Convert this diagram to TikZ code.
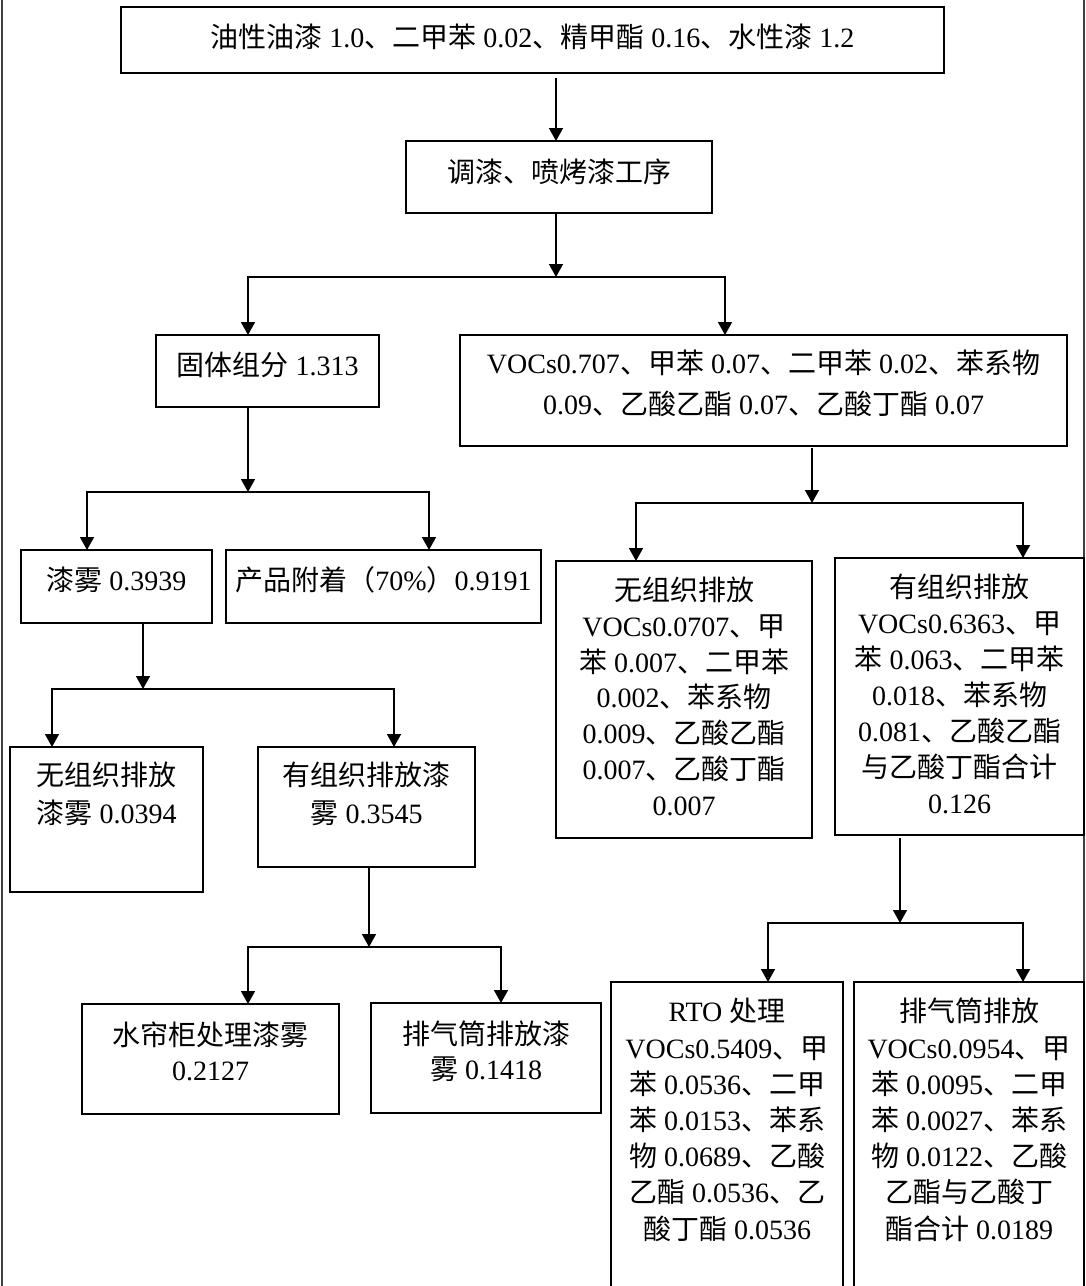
\documentclass[tikz,border=0pt]{standalone}
\usepackage{fontspec}
\setmainfont{Liberation Serif}
\newfontfamily\cjk{Noto Sans CJK SC}
\usetikzlibrary{arrows.meta}
\newcommand\zh[1]{{\cjk #1}}
% width, height, top pad, baselineskip, text
\newcommand\bt[5]{\begin{minipage}[t][#2pt][t]{#1pt}\centering\fontsize{28pt}{#4pt}\selectfont\vspace*{#3pt}\strut #5\end{minipage}}
\tikzset{
  bx/.style={draw, line width=1.8pt, inner sep=0pt, outer sep=0pt, anchor=north west},
  arr/.style={line width=1.6pt, -{Triangle[length=13pt,width=14pt]}},
  frameline/.style={line width=1.2pt, black!75}
}
\begin{document}
\begin{tikzpicture}[x=1pt,y=-1pt]
\clip (0,0) rectangle (1086,1286);
\fill[white] (0,0) rectangle (1086,1286);
\draw[frameline] (2,-10) -- (2,1300);
\draw[frameline] (1084,-10) -- (1084,1300);

\node[bx] (top) at (121,7) {\bt{823}{66}{15.4}{36}{\zh{油性油漆} 1.0\zh{、二甲苯} 0.02\zh{、精甲酯} 0.16\zh{、水性漆} 1.2}};
\node[bx] (proc) at (406,141) {\bt{306}{72}{16.4}{36}{\zh{调漆、喷烤漆工序}}};
\node[bx] (solid) at (156,335) {\bt{223}{72}{15.4}{36}{\zh{固体组分} 1.313}};
\node[bx] (voc) at (460,335) {\bt{607}{111}{9.9}{41}{VOCs0.707\zh{、甲苯} 0.07\zh{、二甲苯} 0.02\zh{、苯系物}\\0.09\zh{、乙酸乙酯} 0.07\zh{、乙酸丁酯} 0.07}};
\node[bx] (mist) at (21,550) {\bt{191}{73}{15.4}{36}{\zh{漆雾} 0.3939}};
\node[bx] (prod) at (226,550) {\bt{315}{73}{15.4}{36}{\zh{产品附着（}70\%\zh{）}0.9191}};
\node[bx] (vocU) at (556,561) {\bt{256}{277}{14.4}{35.8}{\zh{无组织排放}\\VOCs0.0707\zh{、甲}\\\zh{苯} 0.007\zh{、二甲苯}\\0.002\zh{、苯系物}\\0.009\zh{、乙酸乙酯}\\0.007\zh{、乙酸丁酯}\\0.007}};
\node[bx] (vocO) at (835,558) {\bt{249}{277}{14.4}{36}{\zh{有组织排放}\\VOCs0.6363\zh{、甲}\\\zh{苯} 0.063\zh{、二甲苯}\\0.018\zh{、苯系物}\\0.081\zh{、乙酸乙酯}\\\zh{与乙酸丁酯合计}\\0.126}};
\node[bx] (mistU) at (10,747) {\bt{193}{145}{12}{38}{\zh{无组织排放}\\\zh{漆雾} 0.0394}};
\node[bx] (mistO) at (258,747) {\bt{217}{120}{12}{38}{\zh{有组织排放漆}\\\zh{雾} 0.3545}};
\node[bx] (water) at (82,1004) {\bt{257}{110}{17}{35}{\zh{水帘柜处理漆雾}\\0.2127}};
\node[bx] (stackM) at (371,1003) {\bt{230}{110}{17}{35}{\zh{排气筒排放漆}\\\zh{雾} 0.1418}};
\node[bx] (rto) at (611,982) {\bt{232}{330}{14.5}{36.2}{RTO \zh{处理}\\VOCs0.5409\zh{、甲}\\\zh{苯} 0.0536\zh{、二甲}\\\zh{苯} 0.0153\zh{、苯系}\\\zh{物} 0.0689\zh{、乙酸}\\\zh{乙酯} 0.0536\zh{、乙}\\\zh{酸丁酯} 0.0536}};
\node[bx] (stackV) at (854,982) {\bt{230}{330}{14.5}{36.2}{\zh{排气筒排放}\\VOCs0.0954\zh{、甲}\\\zh{苯} 0.0095\zh{、二甲}\\\zh{苯} 0.0027\zh{、苯系}\\\zh{物} 0.0122\zh{、乙酸}\\\zh{乙酯与乙酸丁}\\\zh{酯合计} 0.0189}};

% junction points
\coordinate (b1) at (556,277); \coordinate (b1l) at (248,277); \coordinate (b1r) at (725,277);
\coordinate (b2) at (248,492); \coordinate (b2l) at (87,492);  \coordinate (b2r) at (429,492);
\coordinate (b3) at (143,689); \coordinate (b3l) at (52,689);  \coordinate (b3r) at (394,689);
\coordinate (b4) at (369,947); \coordinate (b4l) at (248,947); \coordinate (b4r) at (501,947);
\coordinate (b5) at (812,503); \coordinate (b5l) at (636,503); \coordinate (b5r) at (1023,503);
\coordinate (b6) at (900,923); \coordinate (b6l) at (768,923); \coordinate (b6r) at (1023,923);

\draw[arr] ([yshift=-5pt]top.south -| b1) -- (proc.north -| b1);

\draw[arr] (proc.south -| b1) -- (b1);
\draw[arr] (b1) -| (solid.north -| b1l);
\draw[arr] (b1) -| (voc.north -| b1r);

\draw[arr] (solid.south -| b2) -- (b2);
\draw[arr] (b2) -| (mist.north -| b2l);
\draw[arr] (b2) -| (prod.north -| b2r);

\draw[arr] (mist.south -| b3) -- (b3);
\draw[arr] (b3) -| (mistU.north -| b3l);
\draw[arr] (b3) -| (mistO.north -| b3r);

\draw[arr] (mistO.south -| b4) -- (b4);
\draw[arr] (b4) -| (water.north -| b4l);
\draw[arr] (b4) -| (stackM.north -| b4r);

\draw[arr] ([yshift=-2pt]voc.south -| b5) -- (b5);
\draw[arr] (b5) -| (vocU.north -| b5l);
\draw[arr] (b5) -| (vocO.north -| b5r);

\draw[arr] ([yshift=-3pt]vocO.south -| b6) -- (b6);
\draw[arr] (b6) -| (rto.north -| b6l);
\draw[arr] (b6) -| (stackV.north -| b6r);
\end{tikzpicture}
\end{document}
